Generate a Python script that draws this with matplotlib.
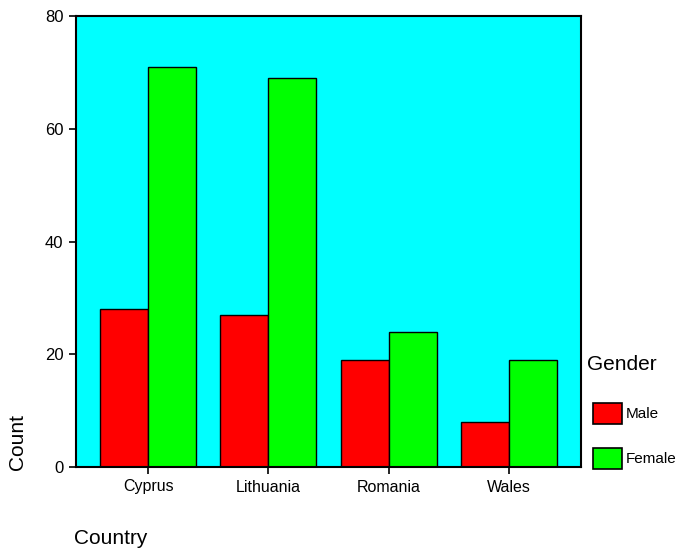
import matplotlib
matplotlib.use("Agg")
import matplotlib.pyplot as plt
import numpy as np
from matplotlib.patches import Rectangle

countries = ["Cyprus", "Lithuania", "Romania", "Wales"]
genders = ["Male", "Female"]
male_counts = [28, 27, 19, 8]
female_counts = [71, 69, 24, 19]
y_ticks = [0, 20, 40, 60, 80]

plt.rcParams["font.family"] = ["Liberation Sans", "DejaVu Sans"]

fig = plt.figure(figsize=(6.78, 5.48), dpi=100)
ax = fig.add_axes([76 / 678, 1 - 467 / 548, (581 - 76) / 678, (467 - 16) / 548])
ax.set_facecolor("#00ffff")

x = np.arange(len(countries))
w = 0.4
ax.bar(x - w / 2, male_counts, width=w, color="#ff0000", edgecolor="black", linewidth=1.0, zorder=2)
ax.bar(x + w / 2, female_counts, width=w, color="#00ff00", edgecolor="black", linewidth=1.0, zorder=2)

ax.set_xlim(-0.6, len(countries) - 0.4)
ax.set_ylim(0, 80)
ax.set_xticks(x)
ax.set_xticklabels(countries, fontsize=11.5)
ax.set_yticks(y_ticks)
ax.set_yticklabels([str(t) for t in y_ticks], fontsize=12)
ax.tick_params(axis="both", direction="out", length=5, width=1.2, color="black", pad=4)
for s in ax.spines.values():
    s.set_linewidth(1.5)
    s.set_color("black")

fig.text(18 / 678, 1 - 442 / 548, "Count", rotation=90, fontsize=15, ha="center", va="center")
fig.text(74 / 678, 1 - 538 / 548, "Country", fontsize=15, ha="left", va="center")

# legend drawn on the figure
fig.text(587 / 678, 1 - 365 / 548, "Gender", fontsize=15, ha="left", va="center")
colors = ["#ff0000", "#00ff00"]
for i, (g, c) in enumerate(zip(genders, colors)):
    y0 = 403 + i * 45
    fig.patches.append(Rectangle((593 / 678, 1 - (y0 + 21) / 548), 29 / 678, 21 / 548,
                                 transform=fig.transFigure, facecolor=c, edgecolor="black",
                                 linewidth=1.2))
    fig.text(626 / 678, 1 - (y0 + 11) / 548, g, fontsize=11, ha="left", va="center")

fig.savefig("out.png", dpi=100, facecolor="white")
